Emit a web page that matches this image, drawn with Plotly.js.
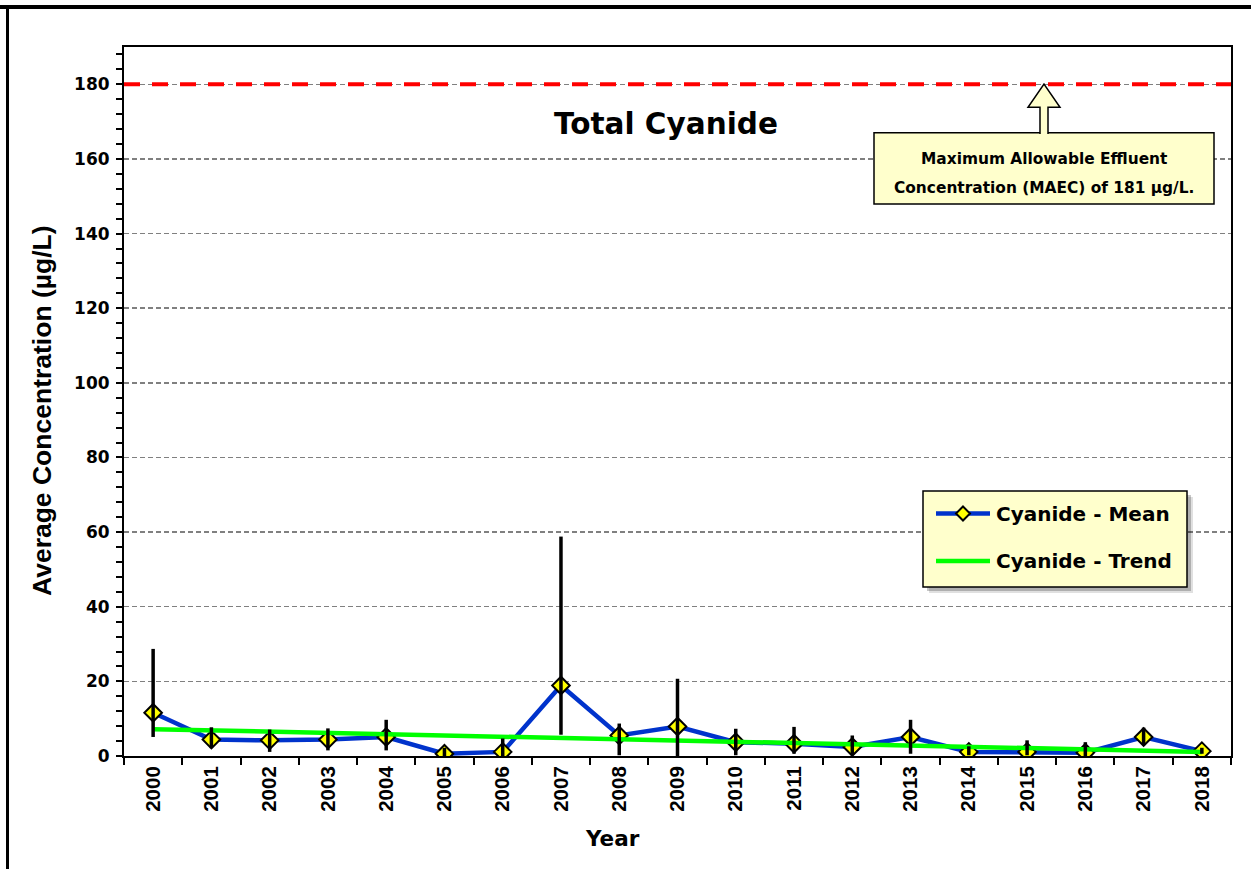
<!DOCTYPE html>
<html>
<head>
<meta charset="utf-8">
<script src="https://cdn.plot.ly/plotly-3.0.1.min.js"></script>
<style>
html,body{margin:0;padding:0;background:#fff;}
#chart{width:1251px;height:869px;}
</style>
</head>
<body>
<div id="chart"></div>
<script>
// ---- data ----
const years = ['2000','2001','2002','2003','2004','2005','2006','2007','2008','2009','2010','2011','2012','2013','2014','2015','2016','2017','2018'];
const meanValues  = [11.6, 4.4, 4.2, 4.4, 5.1, 0.6, 1.1, 18.9, 5.5, 7.9, 3.7, 3.3, 2.4, 5.1, 1.1, 1.1, 0.9, 5.1, 1.3];
const upperValues = [28.7, 7.7, 7.1, 7.4, 9.7, 2.2, 4.7, 58.8, 8.7, 20.7, 7.3, 7.8, 5.5, 9.7, 2.6, 4.2, 3.7, 7.6, 2.2];
const lowerValues = [5.1, 2.1, 1.1, 1.5, 1.5, 0.0, 0.0, 5.7, 0.2, 0.0, 0.2, 0.6, 0.2, 0.6, 0.2, 0.2, 0.0, 2.9, 0.6];
const trendYears  = ['2000','2018'];
const trendValues = [7.2, 1.1];
const maecValue = 180;
const yTickValues = [0,20,40,60,80,100,120,140,160,180];

// ---- geometry helpers (decoration placement only) ----
const W = 1251, H = 869, L = 124, R = 1231, T = 47, B = 756;
const px = x => (x - L) / (R - L);
const py = y => (B - y) / (B - T);
const pathOf = pts => pts.map((p, i) => (i ? 'L' : 'M') + px(p[0]).toFixed(5) + ',' + py(p[1]).toFixed(5)).join(' ');

const HFONT = 'DejaVu Sans, Verdana, sans-serif';
const VFONT = 'Liberation Sans, Arial, sans-serif';

const errPlus = upperValues.map((u, i) => u - meanValues[i]);
const errMinus = meanValues.map((m, i) => m - lowerValues[i]);

const traces = [
  {
    x: years, y: meanValues, type: 'scatter', mode: 'lines+markers',
    name: 'Cyanide - Mean',
    line: {color: '#0033CC', width: 4.5},
    marker: {symbol: 'diamond', size: 13.5, color: '#FFFF00', line: {color: '#000000', width: 2}},
    hoverinfo: 'skip', showlegend: false
  },
  {
    x: trendYears, y: trendValues, type: 'scatter', mode: 'lines',
    name: 'Cyanide - Trend',
    line: {color: '#00FF00', width: 4.5},
    hoverinfo: 'skip', showlegend: false
  },
  {
    x: years, y: meanValues, type: 'scatter', mode: 'markers',
    marker: {size: 1, color: 'rgba(0,0,0,0)'},
    error_y: {type: 'data', symmetric: false, array: errPlus, arrayminus: errMinus, color: '#000000', thickness: 3.5, width: 0},
    hoverinfo: 'skip', showlegend: false
  }
];

const shapes = [
  // outer frame
  {type: 'line', xref: 'paper', yref: 'paper', x0: px(0), x1: px(W), y0: py(7), y1: py(7), line: {color: '#000', width: 4}},
  {type: 'line', xref: 'paper', yref: 'paper', x0: px(7.5), x1: px(7.5), y0: py(5), y1: py(H), line: {color: '#000', width: 3}},
  // MAEC line
  {type: 'line', xref: 'paper', yref: 'y', x0: 0, x1: 1, y0: maecValue, y1: maecValue, layer: 'above',
   line: {color: '#FF0000', width: 4, dash: '16px,12px'}},
  // MAEC callout box
  {type: 'rect', xref: 'paper', yref: 'paper', x0: px(874), x1: px(1214), y0: py(204), y1: py(132.7), layer: 'above',
   fillcolor: '#FFFFCC', line: {color: '#000', width: 1.5}},
  {type: 'path', xref: 'paper', yref: 'paper', layer: 'above',
   path: pathOf([[1040,134],[1040,107.3],[1028,107.3],[1044,84],[1060,107.3],[1048,107.3],[1048,134]]),
   fillcolor: '#FFFFCC', line: {color: '#000', width: 1.5}},
  // legend shadow + box
  {type: 'rect', xref: 'paper', yref: 'paper', x0: px(929), x1: px(1193), y0: py(593), y1: py(497), layer: 'above',
   fillcolor: 'rgba(0,0,0,0.12)', line: {width: 0}},
  {type: 'rect', xref: 'paper', yref: 'paper', x0: px(927), x1: px(1191), y0: py(591), y1: py(495), layer: 'above',
   fillcolor: 'rgba(0,0,0,0.22)', line: {width: 0}},
  {type: 'rect', xref: 'paper', yref: 'paper', x0: px(923), x1: px(1187), y0: py(587), y1: py(491), layer: 'above',
   fillcolor: '#FFFFCC', line: {color: '#000', width: 1.5}},
  {type: 'line', xref: 'paper', yref: 'paper', x0: px(936), x1: px(990), y0: py(513.5), y1: py(513.5), layer: 'above',
   line: {color: '#0033CC', width: 4.5}},
  {type: 'path', xref: 'paper', yref: 'paper', layer: 'above',
   path: pathOf([[963,506.5],[970,513.5],[963,520.5],[956,513.5]]) + ' Z',
   fillcolor: '#FFFF00', line: {color: '#000', width: 2}},
  {type: 'line', xref: 'paper', yref: 'paper', x0: px(936), x1: px(990), y0: py(561), y1: py(561), layer: 'above',
   line: {color: '#00FF00', width: 4.5}}
];

const annotations = [
  {text: 'Total Cyanide', xref: 'paper', yref: 'paper', x: px(666), y: py(124), xanchor: 'center', yanchor: 'middle',
   showarrow: false, font: {family: HFONT, size: 29.5, weight: 'bold', color: '#000'}},
  {text: 'Maximum Allowable Effluent', xref: 'paper', yref: 'paper', x: px(1044), y: py(159), xanchor: 'center', yanchor: 'middle',
   showarrow: false, font: {family: HFONT, size: 15.4, weight: 'bold', color: '#000'}},
  {text: 'Concentration (MAEC) of 181 µg/L.', xref: 'paper', yref: 'paper', x: px(1044), y: py(188), xanchor: 'center', yanchor: 'middle',
   showarrow: false, font: {family: HFONT, size: 15.4, weight: 'bold', color: '#000'}},
  {text: 'Cyanide - Mean', xref: 'paper', yref: 'paper', x: px(994), y: py(513.5), xanchor: 'left', yanchor: 'middle',
   showarrow: false, font: {family: HFONT, size: 20, weight: 'bold', color: '#000'}},
  {text: 'Cyanide - Trend', xref: 'paper', yref: 'paper', x: px(994), y: py(561), xanchor: 'left', yanchor: 'middle',
   showarrow: false, font: {family: HFONT, size: 20, weight: 'bold', color: '#000'}},
  {text: 'Year', xref: 'paper', yref: 'paper', x: px(612), y: py(838), xanchor: 'center', yanchor: 'middle',
   showarrow: false, font: {family: HFONT, size: 21.5, weight: 'bold', color: '#000'}},
  {text: 'Average Concentration (µg/L)', xref: 'paper', yref: 'paper', x: px(42), y: py(411), xanchor: 'center', yanchor: 'middle',
   textangle: -90, showarrow: false, font: {family: VFONT, size: 26.5, weight: 'bold', color: '#000'}}
];

const layout = {
  width: W, height: H,
  margin: {l: L, r: W - R, t: T, b: H - B, pad: 0},
  paper_bgcolor: '#ffffff', plot_bgcolor: '#ffffff',
  showlegend: false,
  hovermode: false,
  xaxis: {
    type: 'category', categoryorder: 'array', categoryarray: years,
    tickson: 'boundaries', ticks: 'outside', ticklen: 7, tickwidth: 2, tickcolor: '#000',
    showgrid: false, zeroline: false,
    showline: true, linecolor: '#000', linewidth: 2, mirror: true,
    tickangle: -90,
    tickfont: {family: VFONT, size: 20.5, weight: 'bold', color: '#000'},
    range: [-0.5, 18.5], fixedrange: true
  },
  yaxis: {
    range: [0, 190], tickmode: 'array', tickvals: yTickValues,
    ticks: 'outside', ticklen: 6, tickwidth: 2, tickcolor: '#000',
    minor: {dtick: 4, tick0: 0, ticks: 'outside', ticklen: 6, tickwidth: 2, tickcolor: '#000', showgrid: false},
    showgrid: true, gridcolor: '#808080', gridwidth: 1.5, griddash: '5px,3px',
    zeroline: false,
    showline: true, linecolor: '#000', linewidth: 2, mirror: true,
    tickfont: {family: HFONT, size: 17, weight: 'bold', color: '#000'},
    ticklabelstandoff: 3,
    fixedrange: true
  },
  shapes: shapes,
  annotations: annotations
};

Plotly.newPlot('chart', traces, layout, {displayModeBar: false, staticPlot: true});
</script>
</body>
</html>
